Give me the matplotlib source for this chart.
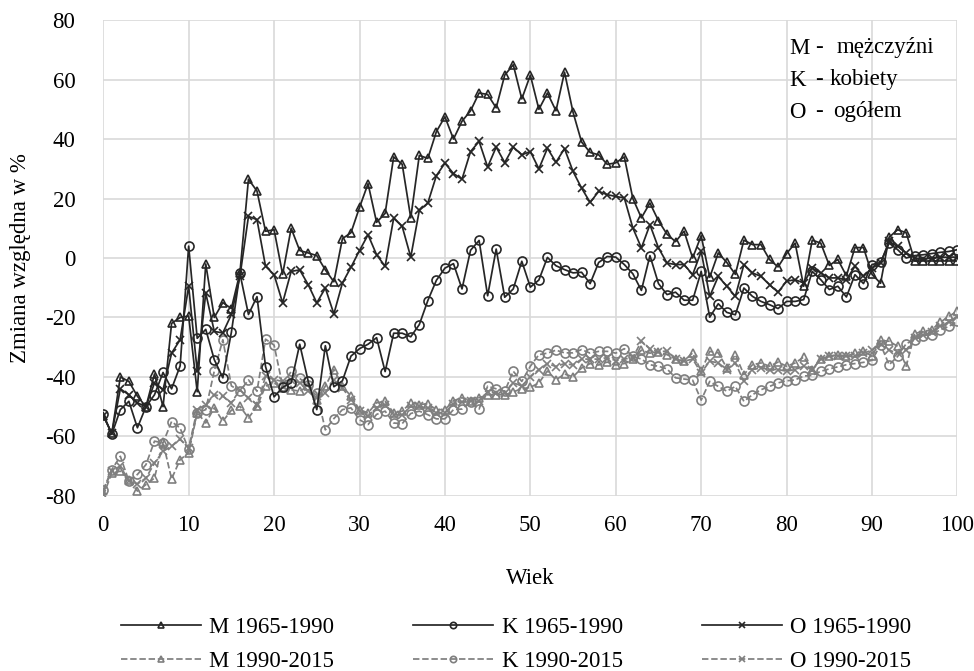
import matplotlib
matplotlib.use("Agg")
import matplotlib.pyplot as plt

plt.rcParams['font.family'] = ['Liberation Serif', 'DejaVu Serif']
plt.rcParams['axes.unicode_minus'] = False

wiek = list(range(0, 101))

m_1965_1990 = [-53, -59, -40, -41.5, -46.5, -50, -39, -50, -22, -20,
               -19.5, -45, -2, -20, -15, -17, -5, 26.5, 22.5, 9,
               9.5, -5.5, 10, 2.5, 1.7, 0.8, -4, -8, 6.5, 8.5,
               17, 25, 12, 15, 34, 31.5, 13.5, 34.5, 33.5, 42.5,
               47.5, 40, 46, 49.5, 55.5, 55, 50.5, 61.5, 65, 53.5,
               61.5, 50, 55.5, 49.5, 62.5, 49, 39, 35.5, 34.7, 31.5,
               32, 34, 20, 13.5, 18.5, 12.5, 8, 5.5, 9, 0,
               7.5, -6.5, 1.7, -1.5, -5.5, 6, 4.5, 4.5, -0.5, -3,
               1.5, 5, -9.5, 6, 5, -2.5, -0.5, -6, 3.5, 3.5,
               -5.5, -8.5, 7, 9.5, 8.5, -1, -1, -1, -1, -1, -1]

k_1965_1990 = [-52.5, -59.3, -51, -48.2, -57.1, -50, -46, -38.5, -44, -36.3,
               4, -27, -24, -34.2, -40.3, -25, -5.2, -19, -13, -36.5,
               -46.7, -43.5, -42, -29, -41.5, -51, -29.5, -43.3, -41.3, -33,
               -30.5, -29, -26.8, -38.2, -25.3, -25.3, -26.5, -22.4, -14.3, -7.5,
               -3.4, -1.9, -10.4, 2.6, 5.9, -12.7, 3, -13.2, -10.4, -1.1,
               -9.8, -7.4, 0.2, -2.6, -3.9, -5, -4.8, -8.6, -1.5, 0.5,
               0.3, -2.2, -5.3, -10.9, 0.8, -8.6, -12.3, -11.5, -14.2, -14.2,
               -4.5, -19.9, -15.4, -18.3, -19.1, -10.1, -12.9, -14.6, -15.7, -17,
               -14.6, -14.6, -14, -4.5, -7.3, -10.6, -9.5, -13.1, -5.6, -8.6,
               -2.2, -1.5, 5, 2.8, 0, 0.8, 1.1, 1.5, 1.9, 2.2, 2.8]

o_1965_1990 = [-53, -59, -44, -46, -48.7, -50, -42, -44.3, -32, -27.5,
               -9.5, -38, -11.8, -24.7, -25.2, -19, -6.2, 14, 12.9, -2.8,
               -5.6, -15.1, -4.5, -4, -9, -15.1, -10.1, -18.8, -8.4, -3.1,
               2.5, 7.8, 1.1, -2.8, 13.4, 10.6, 0.3, 16, 18.5, 27.7,
               31.9, 28.4, 26.5, 35.8, 39.2, 30.6, 37.3, 32.1, 37.3, 34.7,
               35.8, 30, 36.9, 32.2, 36.8, 29.1, 23.5, 18.7, 22.4, 21.3,
               20.7, 20.2, 10.1, 3.4, 11.2, 3.4, -1.7, -2.2, -2.2, -5.6,
               2.2, -12.9, -6.2, -9.5, -12.9, -2.2, -5, -6.2, -9, -11.5,
               -7.8, -7.3, -8.4, -3.4, -5, -6.7, -6.7, -7.3, -2.8, -6.2,
               -3.4, -1.7, 5.6, 3.9, 1.7, 0, -0.4, 0, 0.2, 0.3, 0.3]

m_1990_2015 = [-80, -72.3, -71.7, -74.5, -78.4, -76.2, -74, -62, -74.3, -67.8,
               -65.6, -52, -55.5, -50.4, -54.9, -51.2, -49.9, -53.8, -49.9, -43.1,
               -42, -43.7, -44.3, -44.8, -43.1, -47.6, -43.1, -37.5, -43.1, -46.5,
               -51, -52.1, -48.7, -48.2, -52.1, -51.5, -48.7, -49.3, -49, -51,
               -51, -48, -47, -48, -47, -46, -46, -46, -45, -44,
               -43.5, -42, -38, -41, -39, -40, -37, -35.5, -36, -35,
               -36, -35.5, -34, -31, -32, -31.7, -32.5, -34, -34.7, -31.9,
               -38.1, -31.4, -31.9, -37, -32.5, -39.2, -35.9, -35.3, -36.4, -35,
               -36.4, -35.3, -33.3, -37.5, -34, -33, -32.5, -33, -32, -31.4,
               -33, -27.7, -28, -29.7, -36.4, -25.4, -24.7, -24.1, -21.6, -19.6, -17.9]

k_1990_2015 = [-78, -71.2, -66.7, -75, -72.8, -69.5, -61.6, -62.2, -55, -57.2,
               -64.4, -52, -51, -38, -27.5, -43, -44.8, -41, -44.8, -27.3,
               -29.3, -43, -38.1, -40.5, -42.8, -45.4, -57.8, -54, -51, -50.4,
               -54.4, -56, -52.6, -51.5, -55.5, -55.7, -52.3, -51.5, -52.7, -54.1,
               -54.1, -51, -50.8, -48.5, -50.8, -43.1, -44, -44.8, -38.1, -41.5,
               -36.4, -32.5, -32, -31, -31.9, -31.9, -30.8, -32, -31.4, -31.4,
               -32, -30.5, -33.1, -34, -35.9, -36.4, -37.3, -40.3, -40.7, -41.1,
               -47.8, -41.5, -43.2, -44.8, -43.2, -48.2, -46, -44.3, -43.2, -42,
               -41.3, -41, -39.7, -39.5, -38.1, -37.3, -36.6, -35.9, -35.5, -35.1,
               -34.4, -29.1, -35.9, -33.1, -28.8, -27.5, -26.1, -25.8, -24.1, -23, -21.3]

o_1990_2015 = [-78.5, -71.5, -70, -75, -76, -74, -69, -65, -63.3, -61,
               -63.9, -51, -49.3, -46, -46.5, -48.7, -44.3, -47, -49.3, -39.8,
               -40.9, -41.5, -40.9, -42, -44.8, -46.5, -45.4, -40.9, -43.7, -47.6,
               -51.5, -53.2, -50.4, -49.3, -52.7, -52.7, -49.9, -49.9, -50.5, -52,
               -52, -49, -48.5, -48, -48, -45, -45.5, -45.5, -42, -43,
               -40, -37.5, -35.5, -36.5, -35.5, -36, -34, -34, -34, -33.5,
               -34.5, -34, -33.5, -28, -30.6, -31.7, -31.2, -34, -34.7, -34,
               -38.6, -34.7, -35.3, -37.5, -35.3, -41.5, -37.5, -37, -37.5, -37.5,
               -38.1, -37.5, -36.4, -37.5, -34, -33, -33, -33, -33, -32,
               -31, -29, -31, -32, -31, -27, -26, -25, -23, -21.5, -20]

czarny = '#262626'
szary = '#7f7f7f'
rozmiar = 16.5

fig = plt.figure(figsize=(9.74, 6.71), dpi=100)
ax = fig.add_axes([0.106, 0.261, 0.877, 0.709])

seria = [
    (m_1965_1990, 'M 1965-1990', czarny, '-', '^'),
    (m_1990_2015, 'M 1990-2015', szary, '--', '^'),
    (k_1965_1990, 'K 1965-1990', czarny, '-', 'o'),
    (k_1990_2015, 'K 1990-2015', szary, '--', 'o'),
    (o_1965_1990, 'O 1965-1990', czarny, '-', 'x'),
    (o_1990_2015, 'O 1990-2015', szary, '--', 'x'),
]

# gray series drawn first so the black ones lie on top
for y, nazwa, kolor, styl, znak in sorted(seria, key=lambda s: s[2] == czarny):
    ax.plot(wiek, y, color=kolor, linestyle=styl, linewidth=1.25,
            marker=znak, markersize=6.5 if znak == 'o' else 6.3,
            markerfacecolor='none', markeredgecolor=kolor,
            markeredgewidth=1.2, label=nazwa, zorder=3 if kolor == czarny else 2)

ax.set_xlim(0, 100)
ax.set_ylim(-80, 80)
ax.set_xticks(range(0, 101, 10))
ax.set_yticks(range(-80, 81, 20))
ax.grid(True, color='#d9d9d9', linewidth=1.2)
ax.set_axisbelow(True)
for s in ax.spines.values():
    s.set_visible(False)
ax.tick_params(axis='y', length=0, labelsize=rozmiar, pad=20)
ax.tick_params(axis='x', length=0, labelsize=rozmiar, pad=14)
ax.set_xlabel('Wiek', fontsize=rozmiar, labelpad=23)
ax.set_ylabel('Zmiana względna w %', fontsize=rozmiar, labelpad=10)

# opis skrótów w prawym górnym rogu
opis = [('M', 'mężczyźni', 837), ('K', 'kobiety', 830), ('O', 'ogółem', 833)]
for i, (litera, slowo, xs) in enumerate(opis):
    yy = 1 - (48 + 32 * i) / 671
    fig.text(789 / 974, yy, litera, fontsize=rozmiar, va='center', ha='left')
    fig.text(815 / 974, yy, '-', fontsize=rozmiar, va='center', ha='left')
    fig.text(xs / 974, yy, slowo, fontsize=rozmiar, va='center', ha='left')

uchwyty, etykiety = ax.get_legend_handles_labels()
kolejnosc = [etykiety.index(n) for n in ['M 1965-1990', 'M 1990-2015', 'K 1965-1990',
                                         'K 1990-2015', 'O 1965-1990', 'O 1990-2015']]
fig.legend([uchwyty[i] for i in kolejnosc], [etykiety[i] for i in kolejnosc],
           loc='upper left', bbox_to_anchor=(121 / 974, 1 - 617 / 671), ncol=3,
           frameon=False, borderpad=0, borderaxespad=0,
           fontsize=rozmiar, handlelength=3.5, columnspacing=3.45, markerscale=0.7,
           labelspacing=0.55, handletextpad=0.35)

fig.savefig('out.png', dpi=100)
